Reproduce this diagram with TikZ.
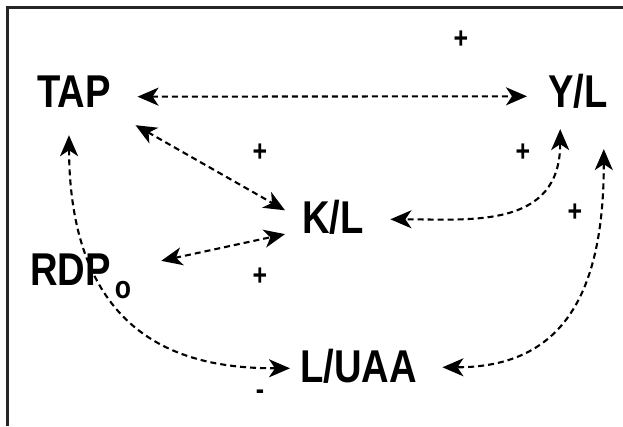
\documentclass[tikz,border=0pt]{standalone}
\usepackage{fontspec}
\newfontfamily\lblfont{Liberation Sans Bold}[FakeStretch=0.83]
\usetikzlibrary{arrows.meta}
\begin{document}
\begin{tikzpicture}[x=1pt,y=1pt,
  var/.style={inner sep=0pt, anchor=base west, font=\lblfont\fontsize{46}{46}\selectfont},
  sign/.style={inner sep=0pt, font=\lblfont\fontsize{30}{30}\selectfont},
  link/.style={line width=2.1pt, dash pattern=on 6pt off 4pt,
    {Stealth[length=21pt,width=18pt,inset=6pt]}-{Stealth[length=21pt,width=18pt,inset=6pt]}}]
\useasboundingbox (0,0) rectangle (623,426);
% frame
\draw[line width=3pt, black!85] (7,0) -- (7,418) -- (623,418);

% variables
\node[var] (tap)  at (37,318)  {TAP};
\node[var] (yl)   at (548,318) {Y/L};
\node[var] (kl)   at (302,193) {K/L};
\node[var] (rdp)  at (30,141)  {RDP\kern4pt\raisebox{-13pt}{\fontsize{32}{32}\selectfont o}};
\node[var] (luaa) at (300,44)  {L/UAA};

% relations
\draw[link] ([shift={(26.6,-4.5)}]tap.east) -- ([shift={(-21,-4.5)}]yl.west);
\draw[link] ([shift={(24.6,-17)}]tap.south east) -- ([shift={(-17,6.5)}]kl.west);
\draw[link] ([shift={(30,15)}]rdp.east) -- ([shift={(-17,0)}]kl.south west);
\draw[link] ([shift={(-17.7,-20)}]yl.south) .. controls +(0,-100) and +(80,0) .. ([shift={(26.5,-2.5)}]kl.east);
\draw[link] ([shift={(-4,-40)}]yl.south east) .. controls +(0,-148) and +(118,0) .. ([shift={(25.4,-1.5)}]luaa.east);
\draw[link] ([shift={(-5,-27)}]tap.south) .. controls +(1,-216) and +(-90,0) .. ([shift={(-10,-2.5)}]luaa.west);

% signs
\node[sign] (s1) at (461,386) {+};
\node[sign] (s2) at (260,273) {+};
\node[sign] (s3) at (523,273) {+};
\node[sign] (s4) at (575,213) {+};
\node[sign] (s5) at (260,149) {+};
\node[sign] (s6) at (260,31)  {-};
\end{tikzpicture}
\end{document}
